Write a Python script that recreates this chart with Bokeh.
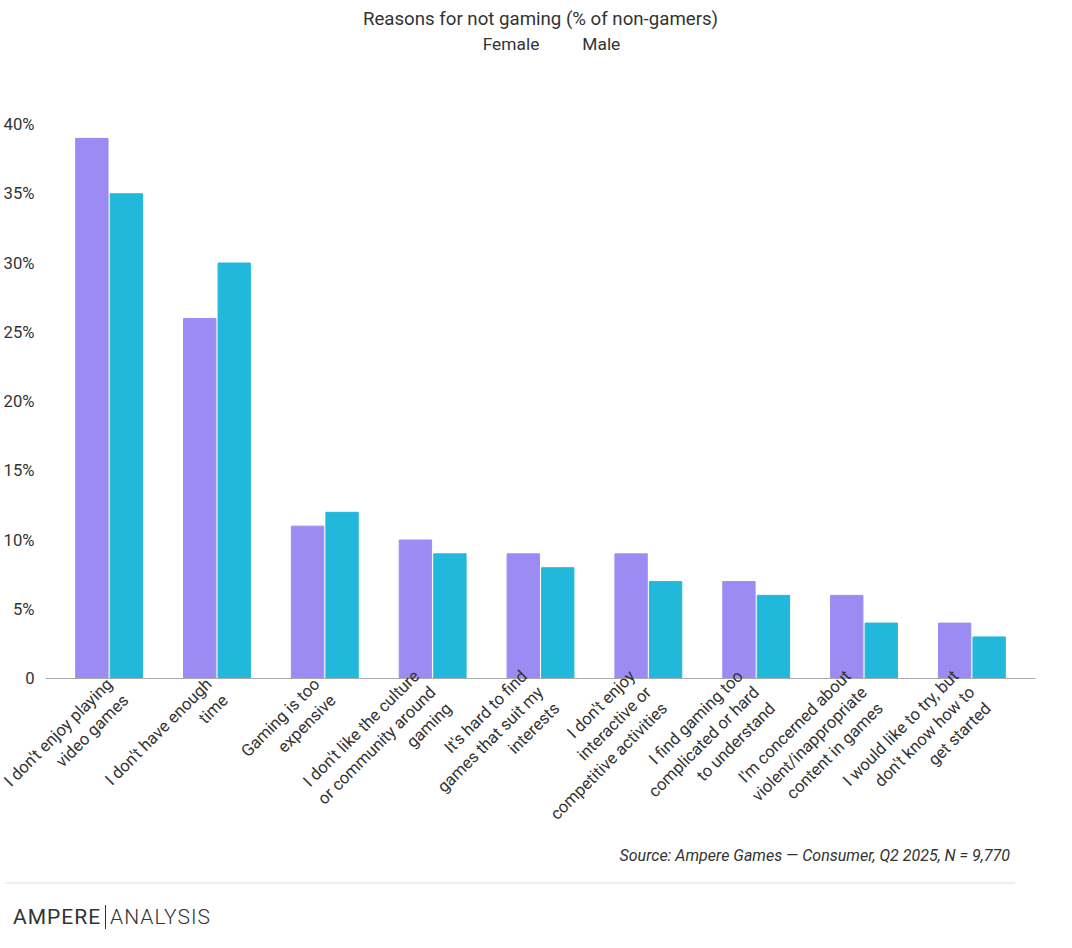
from math import pi
from bokeh.plotting import figure
from bokeh.models import ColumnDataSource, Legend, FixedTicker, Div, CustomJSTickFormatter
from bokeh.transform import dodge
from bokeh.layouts import column
from bokeh.embed import file_html
from bokeh.resources import INLINE

categories = ["I don't enjoy playing\nvideo games", "I don't have enough\ntime", "Gaming is too\nexpensive",
              "I don't like the culture\nor community around\ngaming", "It's hard to find\ngames that suit my\ninterests",
              "I don't enjoy\ninteractive or\ncompetitive activities", "I find gaming too\ncomplicated or hard\nto understand",
              "I'm concerned about\nviolent/inappropriate\ncontent in games", "I would like to try, but\ndon't know how to\nget started"]
female = [39, 26, 11, 10, 9, 9, 7, 6, 4]
male = [35, 30, 12, 9, 8, 7, 6, 4, 3]
yticks = [0, 5, 10, 15, 20, 25, 30, 35, 40]

src = ColumnDataSource(dict(cat=categories, f=female, m=male))
p = figure(x_range=categories, y_range=(0, 46.5), width=1040, height=850, output_backend="svg",
           toolbar_location=None, title="Reasons for not gaming (% of non-gamers)", min_border_left=40)
p.title.align = "center"; p.title.text_font = "Roboto"; p.title.text_font_size = "14pt"
p.title.text_font_style = "normal"; p.title.text_color = "#333333"
p.vbar(x=dodge("cat", -0.16, range=p.x_range), top="f", width=0.3, source=src, color="#9d8bf4")
p.vbar(x=dodge("cat", 0.16, range=p.x_range), top="m", width=0.3, source=src, color="#22b8dc")
e = ColumnDataSource(dict(x=[], y=[]))
l1 = p.scatter("x", "y", source=e, marker="circle", size=18, color="#9d8bf4")
l2 = p.scatter("x", "y", source=e, marker="circle", size=18, color="#22b8dc")
leg = Legend(items=[("Female", [l1]), ("Male", [l2])], orientation="horizontal", location="top_center",
             border_line_color=None, background_fill_alpha=0, label_text_font="Roboto", label_text_font_size="13pt",
             label_text_color="#333333", glyph_width=18, glyph_height=18, spacing=20, margin=0)
p.add_layout(leg)
p.xgrid.grid_line_color = None; p.ygrid.grid_line_color = None
p.outline_line_color = None
p.yaxis.ticker = FixedTicker(ticks=yticks)
p.yaxis.formatter = CustomJSTickFormatter(code="return tick==0 ? '0' : tick + '%';")
p.yaxis.axis_line_color = None; p.yaxis.major_tick_line_color = None; p.yaxis.minor_tick_line_color = None
p.xaxis.major_tick_line_color = None; p.xaxis.axis_line_color = "#aaaaaa"
p.xaxis.major_label_orientation = pi/4
for ax in (p.xaxis, p.yaxis):
    ax.major_label_text_font = "Roboto"; ax.major_label_text_font_size = "12.5pt"
    ax.major_label_text_color = "#333333"
p.x_range.range_padding = 0.02

foot = Div(width=1040, text="""
<div style="font-family:Roboto;font-style:italic;font-size:16px;color:#333;text-align:right;width:1005px;margin-top:-10px">Source: Ampere Games \u2014 Consumer, Q2 2025, N = 9,770</div>
<div style="border-top:2px solid #eee;width:1010px;margin-top:14px"></div>
<div style="font-family:Roboto;font-size:21px;color:#333;margin-top:18px;margin-left:8px;letter-spacing:1px">AMPERE<span style="border-left:1px solid #333;margin:0 4px"></span><span style="font-weight:300">ANALYSIS</span></div>
""")
open("out.html", "w").write(file_html(column(p, foot), INLINE))
